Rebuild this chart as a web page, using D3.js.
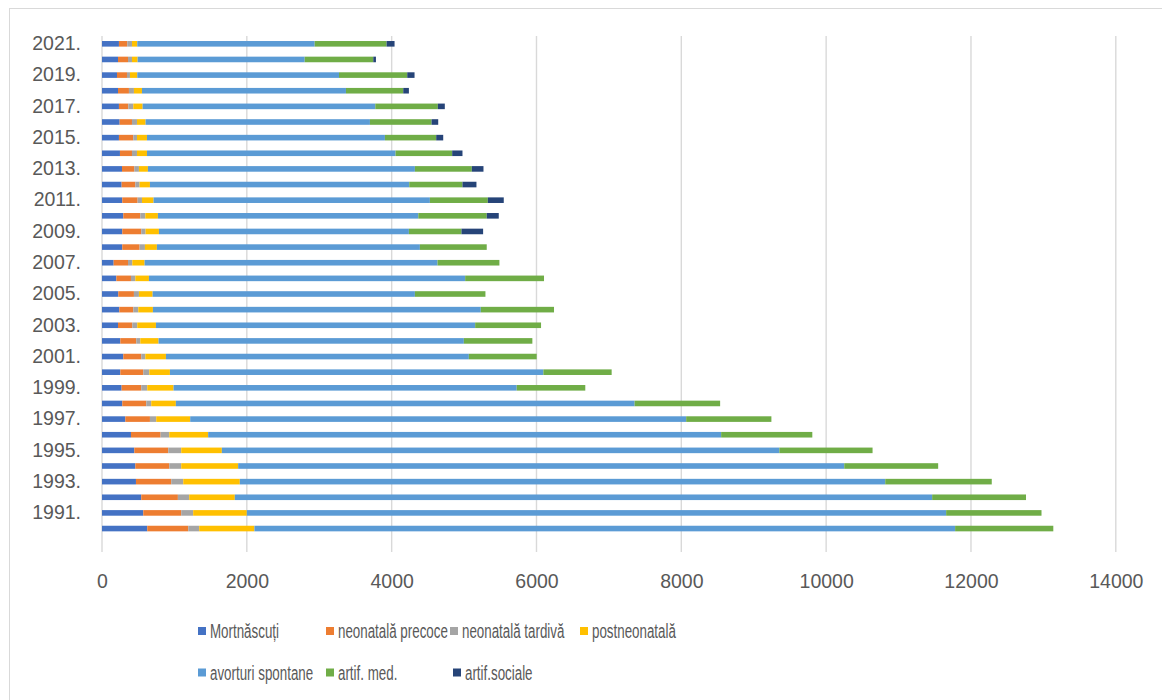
<!DOCTYPE html>
<html>
<head>
<meta charset="utf-8">
<script src="https://cdn.jsdelivr.net/npm/d3@7"></script>
<style>
  html, body { margin: 0; padding: 0; background: #fff; }
  svg { display: block; }
  text { font-family: "Liberation Sans", Arial, sans-serif; fill: #595959; }
</style>
</head>
<body>
<svg id="chart" width="1162" height="700"></svg>
<script>
// Years, bottom (1990) to top (2021)
const years = ["1990.", "1991.", "1992.", "1993.", "1994.", "1995.", "1996.", "1997.",
  "1998.", "1999.", "2000.", "2001.", "2002.", "2003.", "2004.", "2005.", "2006.",
  "2007.", "2008.", "2009.", "2010.", "2011.", "2012.", "2013.", "2014.", "2015.",
  "2016.", "2017.", "2018.", "2019.", "2020.", "2021."];

const seriesNames = ["Mortnăscuți", "neonatală precoce", "neonatală tardivă", "postneonatală",
  "avorturi spontane", "artif. med.", "artif.sociale"];

const mortnascuti = [625, 570, 542, 469, 460, 446, 400, 322, 280, 271, 253, 294, 253, 221, 239, 225,
  198, 161, 280, 280, 294, 280, 271, 276, 248, 234, 244, 234, 221, 207, 221, 234];
const neonatalaPrecoce = [566, 524, 506, 487, 469, 469, 409, 340, 331, 271, 317, 248, 220, 197, 193, 216,
  202, 198, 239, 262, 235, 212, 189, 170, 166, 198, 170, 129, 151, 138, 138, 115];
const neonatalaTardiva = [151, 165, 156, 166, 165, 179, 120, 87, 69, 83, 83, 56, 56, 69, 69, 69,
  60, 59, 74, 60, 69, 60, 59, 64, 69, 51, 69, 69, 69, 41, 55, 65];
const postneonatala = [763, 741, 630, 781, 786, 561, 537, 469, 340, 363, 285, 285, 252, 258, 202, 189,
  188, 170, 165, 184, 174, 160, 143, 124, 138, 138, 119, 129, 111, 101, 78, 73];
const avorturiSpontane = [9676, 9657, 9630, 8913, 8370, 7699, 7084, 6849, 6335, 4739, 5157, 4183, 4216, 4408, 4528, 3622,
  4367, 4045, 3632, 3452, 3596, 3816, 3581, 3687, 3433, 3286, 3098, 3213, 2817, 2786, 2307, 2450];
const artifMed = [1356, 1317, 1296, 1471, 1297, 1287, 1259, 1177, 1181, 947, 943, 937, 946, 910, 1011, 974,
  1089, 855, 923, 726, 945, 800, 735, 786, 782, 708, 851, 864, 791, 942, 947, 993];
const artifSociale = [0, 0, 0, 0, 0, 0, 0, 0, 0, 0, 0, 0, 0, 0, 0, 0,
  0, 0, 0, 299, 166, 220, 193, 161, 142, 97, 92, 96, 78, 101, 37, 110];

const xTicks = [0, 2000, 4000, 6000, 8000, 10000, 12000, 14000];

const colors = ["#4472C4", "#ED7D31", "#A5A5A5", "#FFC000", "#5B9BD5", "#70AD47", "#264478"];

// Build rows for the stack layout
const seriesValues = [mortnascuti, neonatalaPrecoce, neonatalaTardiva, postneonatala,
  avorturiSpontane, artifMed, artifSociale];
const rows = years.map((y, i) => {
  const r = { year: y };
  seriesNames.forEach((s, k) => { r[s] = seriesValues[k][i]; });
  return r;
});
const stacked = d3.stack().keys(seriesNames)(rows);

const svg = d3.select("#chart");

// Chart area frame
svg.append("rect")
  .attr("x", 9.5).attr("y", 8.5)
  .attr("width", 1170).attr("height", 720)
  .attr("fill", "none").attr("stroke", "#d9d9d9").attr("stroke-width", 1);

const plot = { left: 102, right: 1115.8, top: 36, bottom: 552 };

const x = d3.scaleLinear().domain([0, 14000]).range([plot.left, plot.right]);

// One empty slot below 1990 in the category axis
const yDomain = ["", ...years].reverse();
const y = d3.scaleBand().domain(yDomain)
  .range([plot.top, plot.bottom])
  .paddingInner(0.642).paddingOuter(0.321);

// Vertical gridlines
svg.append("g").selectAll("line").data(xTicks).join("line")
  .attr("x1", d => x(d)).attr("x2", d => x(d))
  .attr("y1", plot.top).attr("y2", plot.bottom)
  .attr("stroke", "#d9d9d9").attr("stroke-width", 1.4);

// Stacked bars
svg.append("g").selectAll("g").data(stacked).join("g")
  .attr("fill", (d, i) => colors[i])
  .selectAll("rect").data(d => d).join("rect")
  .attr("x", d => x(d[0]))
  .attr("y", d => y(d.data.year))
  .attr("width", d => Math.max(0, x(d[1]) - x(d[0])))
  .attr("height", y.bandwidth());

// Category axis: every second year labelled
const labelled = years.filter((d, i) => i % 2 === 1);
const yAxis = svg.append("g")
  .attr("transform", `translate(${plot.left},0)`)
  .call(d3.axisLeft(y).tickValues(labelled).tickSize(0).tickPadding(21));
yAxis.select(".domain").remove();
yAxis.selectAll("text")
  .style("font-family", "'Liberation Sans', Arial, sans-serif")
  .style("font-size", "19.5px").style("fill", "#595959");

// Value axis
const xAxis = svg.append("g")
  .attr("transform", `translate(0,${plot.bottom})`)
  .call(d3.axisBottom(x).tickValues(xTicks).tickFormat(d3.format("d")).tickSize(0).tickPadding(22));
xAxis.select(".domain").remove();
xAxis.selectAll("text")
  .style("font-family", "'Liberation Sans', Arial, sans-serif")
  .style("font-size", "19.5px").style("fill", "#595959");

// Legend
const legendPos = [
  [198, 631], [326, 631], [450, 631], [580, 631],
  [198, 672.5], [326, 672.5], [453, 672.5]
];
const legend = svg.append("g").selectAll("g").data(seriesNames).join("g")
  .attr("transform", (d, i) => `translate(${legendPos[i][0]},${legendPos[i][1]})`);
legend.append("rect")
  .attr("x", 0).attr("y", -4).attr("width", 8).attr("height", 8)
  .attr("fill", (d, i) => colors[i]);
legend.append("text")
  .attr("transform", "translate(12,0) scale(0.685,1)")
  .attr("dy", "0.37em")
  .style("font-size", "19.5px")
  .text(d => d);
</script>
</body>
</html>
